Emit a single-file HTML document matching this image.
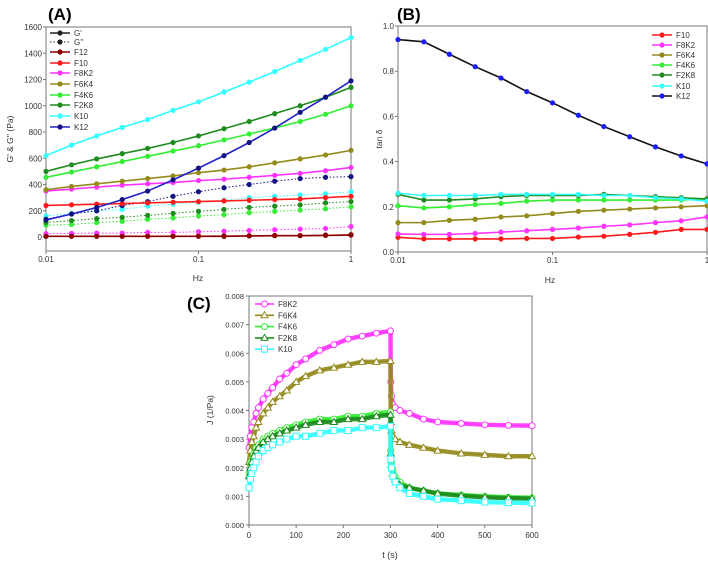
<!DOCTYPE html>
<html><head><meta charset="utf-8"><style>
body{margin:0;background:#fff;}
svg text{font-family:"Liberation Sans",sans-serif;}
</style></head><body>
<svg id="fig" width="708" height="564" xmlns="http://www.w3.org/2000/svg"></svg>
<script>
// ---------- Panel A data ----------
const freqA = [0.01,0.0147,0.0215,0.0316,0.0464,0.0681,0.1,0.147,0.215,0.316,0.464,0.681,1];
const gpK10 = [620,700,770,835,895,965,1030,1105,1180,1260,1345,1430,1520];
const gpF2K8 = [500,550,595,635,675,720,770,825,880,940,1000,1065,1140];
const gpF4K6 = [455,495,535,575,615,655,695,740,785,830,880,935,1000];
const gpF6K4 = [360,385,405,425,445,465,490,510,535,565,595,625,660];
const gpF8K2 = [350,365,380,395,405,415,430,440,455,470,485,505,530];
const gpF10 = [240,245,250,255,260,265,270,275,280,285,290,300,310];
const gpF12 = [5,5,5,5,5,5,5,5,8,10,10,12,15];
const gpK12 = [130,175,225,285,350,435,525,620,720,830,950,1065,1190];
const gdK12 = [135,175,200,240,270,310,345,375,400,425,445,455,460];
const gdK10 = [160,180,200,210,235,250,265,280,300,310,320,330,345];
const gdF2K8 = [110,125,140,150,165,180,195,210,225,235,245,260,270];
const gdF4K6 = [90,95,110,120,135,145,160,170,185,195,205,215,230];
const gdF8K2 = [25,28,30,30,35,35,40,45,50,55,60,65,80];
const gdF12 = [8,8,8,8,8,8,8,10,10,12,12,15,18];
const yTicksA = [0,200,400,600,800,1000,1200,1400,1600];
const xTicksLog = [0.01,0.1,1];
const xTickLabelsLog = ["0.01","0.1","1"];
// ---------- Panel B data ----------
const tdK12 = [0.94,0.93,0.875,0.82,0.77,0.71,0.66,0.605,0.555,0.51,0.465,0.425,0.39];
const tdK10 = [0.26,0.25,0.25,0.25,0.255,0.255,0.255,0.255,0.25,0.25,0.24,0.235,0.225];
const tdF2K8 = [0.255,0.23,0.23,0.235,0.245,0.25,0.25,0.25,0.255,0.25,0.245,0.24,0.235];
const tdF4K6 = [0.205,0.195,0.2,0.21,0.215,0.225,0.23,0.23,0.23,0.23,0.23,0.23,0.235];
const tdF6K4 = [0.13,0.13,0.14,0.145,0.155,0.16,0.17,0.18,0.185,0.19,0.195,0.2,0.205];
const tdF8K2 = [0.08,0.078,0.078,0.082,0.088,0.094,0.1,0.106,0.114,0.12,0.13,0.138,0.155];
const tdF10 = [0.065,0.058,0.058,0.058,0.058,0.06,0.06,0.066,0.07,0.078,0.087,0.1,0.1];
const yTicksB = [0,0.2,0.4,0.6,0.8,1.0];
// ---------- Panel C data ----------
const tC = [0,3,6,10,15,20,30,40,50,65,80,100,120,150,180,210,240,270,300,300.5,302,305,310,320,340,370,400,450,500,550,600];
const jF8K2 = [0.0027,0.0031,0.0034,0.0036,0.0039,0.0041,0.0044,0.0046,0.0048,0.0051,0.0053,0.0056,0.0058,0.0061,0.0063,0.0065,0.0066,0.0067,0.00678,0.0050,0.0045,0.0042,0.0041,0.0040,0.0039,0.0037,0.0036,0.00355,0.0035,0.00348,0.00347];
const jF6K4 = [0.0022,0.0026,0.0029,0.0031,0.0034,0.0036,0.0039,0.0041,0.0043,0.0045,0.0047,0.0050,0.0052,0.0054,0.0055,0.0056,0.0057,0.0057,0.00573,0.0036,0.0033,0.0031,0.0030,0.0029,0.0028,0.0027,0.0026,0.0025,0.00245,0.0024,0.0024];
const jF4K6 = [0.0018,0.0021,0.0023,0.0025,0.0027,0.0028,0.0030,0.0031,0.0032,0.0033,0.0034,0.0035,0.0036,0.0037,0.0037,0.0038,0.0038,0.0039,0.00395,0.0026,0.0022,0.0019,0.0017,0.0015,0.0013,0.0012,0.0011,0.00105,0.001,0.00097,0.00095];
const jF2K8 = [0.0017,0.0020,0.0022,0.0024,0.0026,0.0027,0.0029,0.0030,0.0031,0.0032,0.0033,0.0034,0.0035,0.0036,0.0036,0.0037,0.0037,0.0038,0.00385,0.0025,0.0021,0.0018,0.0016,0.0014,0.0013,0.0012,0.0011,0.00102,0.00097,0.00094,0.00092];
const jK10 = [0.0013,0.0016,0.0018,0.0020,0.0022,0.0024,0.0026,0.0027,0.0028,0.0029,0.0030,0.0031,0.0031,0.0032,0.0033,0.0033,0.0034,0.0034,0.00345,0.0023,0.0020,0.0017,0.0015,0.0013,0.0011,0.0010,0.0009,0.00085,0.0008,0.00078,0.00077];
const yTicksC = [0,0.001,0.002,0.003,0.004,0.005,0.006,0.007,0.008];
const xTicksC = [0,100,200,300,400,500,600];

const NS="http://www.w3.org/2000/svg";
const svg=document.getElementById('fig');
function mk(tag,attrs,parent){const e=document.createElementNS(NS,tag);for(const k in attrs)e.setAttribute(k,attrs[k]);(parent||svg).appendChild(e);return e;}
function txt(x,y,s,size,anchor,parent,extra){const t=mk('text',Object.assign({x:x,y:y,'font-size':size,'text-anchor':anchor||'middle',fill:'#333'},extra||{}),parent);t.textContent=s;return t;}

const C={F12:'#8b0000',F10:'#ff1a1a',F8K2:'#ff33ff',F6K4:'#948a1c',F4K6:'#33ee33',F2K8:'#1e8c1e',K10:'#33ffff',K12:'#2222cc',K12m:'#141480'};

// ---------- Panel A ----------
const A={x0:46,x1:351,yTop:27,yBot:251};
const axA={x:v=>A.x0+(Math.log10(v)+2)/2*(A.x1-A.x0), y:v=>237-v*(210/1600)};
const gA=mk('g',{});


mk('rect',{x:A.x0,y:A.yTop,width:A.x1-A.x0,height:A.yBot-A.yTop,fill:'none',stroke:'#777','stroke-width':1},gA);
yTicksA.forEach(v=>{const y=axA.y(v);mk('line',{x1:A.x0-3,x2:A.x0,y1:y,y2:y,stroke:'#777'},gA);const t=txt(A.x0-4,y+3,String(v),8,'end',gA);});
xTicksLog.forEach((v,i)=>{const x=axA.x(v);mk('line',{x1:x,x2:x,y1:A.yBot,y2:A.yBot+3,stroke:'#777'},gA);const t=txt(x,A.yBot+11,xTickLabelsLog[i],8,'middle',gA);});
function series(g,xs,ys,ax,color,mcolor,dotted,r,name){
  const sg=mk('g',{},g);
  
  
  const pts=xs.map((x,i)=>ax.x(x)+','+ax.y(ys[i])).join(' ');
  const attrs={points:pts,fill:'none',stroke:color,'stroke-width':dotted?1:1.6};
  if(dotted)attrs['stroke-dasharray']='1.5,2';
  mk('polyline',attrs,sg);
  xs.forEach((x,i)=>mk('circle',{cx:ax.x(x),cy:ax.y(ys[i]),r:r,fill:mcolor||color},sg));
}
const dA=[[gdF12,C.F12,'gpp-f12'],[gdF8K2,C.F8K2,'gpp-f8k2'],[gdF4K6,C.F4K6,'gpp-f4k6'],[gdF2K8,C.F2K8,'gpp-f2k8'],[gdK10,C.K10,'gpp-k10'],[gdK12,C.K12m,'gpp-k12']];
dA.forEach(s=>series(gA,freqA,s[0],axA,s[1],null,true,2.6,s[2]));
const sA=[[gpF12,C.F12,C.F12,'gp-f12'],[gpF10,C.F10,C.F10,'gp-f10'],[gpF8K2,C.F8K2,C.F8K2,'gp-f8k2'],[gpF6K4,C.F6K4,C.F6K4,'gp-f6k4'],[gpF4K6,C.F4K6,C.F4K6,'gp-f4k6'],[gpF2K8,C.F2K8,C.F2K8,'gp-f2k8'],[gpK10,C.K10,C.K10,'gp-k10'],[gpK12,C.K12,C.K12m,'gp-k12']];
sA.forEach(s=>series(gA,freqA,s[0],axA,s[1],s[2],false,2.6,s[3]));
// legend A
const legA=[["G'",'#222',false],["G''",'#222',true],['F12',C.F12],['F10',C.F10],['F8K2',C.F8K2],['F6K4',C.F6K4],['F4K6',C.F4K6],['F2K8',C.F2K8],['K10',C.K10],['K12',C.K12]];
const legAy=[33,42,52,63,73,84,95,105,116,127];
const lgA=mk('g',{},gA);


legA.forEach((l,i)=>{const y=legAy[i];const a={x1:50,x2:70,y1:y,y2:y,stroke:l[1],'stroke-width':l[2]?1:1.6};if(l[2])a['stroke-dasharray']='1.5,2';mk('line',a,lgA);mk('circle',{cx:60,cy:y,r:2.6,fill:l[0]=='K12'?C.K12m:l[1]},lgA);const t=txt(74,y+3,l[0],8,'start',lgA);});
let t;
t=txt(0,0,"G' & G'' (Pa)",8.5,'middle',gA,{transform:'translate(13,139) rotate(-90)'});
t=txt(198,281,'Hz',8.5,'middle',gA);
t=txt(48,20,'(A)',17,'start',gA,{'font-weight':'bold','font-family':'Liberation Serif, serif',fill:'#000'});

// ---------- Panel B ----------
const B={x0:398,x1:707,yTop:26,yBot:252};
const axB={x:v=>B.x0+(Math.log10(v)+2)/2*(B.x1-B.x0), y:v=>B.yBot-v*(B.yBot-B.yTop)};
const gB=mk('g',{});


mk('rect',{x:B.x0,y:B.yTop,width:B.x1-B.x0,height:B.yBot-B.yTop,fill:'none',stroke:'#777'},gB);
yTicksB.forEach(v=>{const y=axB.y(v);mk('line',{x1:B.x0-3,x2:B.x0,y1:y,y2:y,stroke:'#777'},gB);const t=txt(B.x0-4,y+3,v.toFixed(1),8,'end',gB);});
xTicksLog.forEach((v,i)=>{const x=axB.x(v);mk('line',{x1:x,x2:x,y1:B.yBot,y2:B.yBot+3,stroke:'#777'},gB);const t=txt(x,B.yBot+11,xTickLabelsLog[i],8,'middle',gB);});
const sB=[[tdF10,C.F10,C.F10,'td-f10'],[tdF8K2,C.F8K2,C.F8K2,'td-f8k2'],[tdF6K4,C.F6K4,C.F6K4,'td-f6k4'],[tdF4K6,C.F4K6,C.F4K6,'td-f4k6'],[tdF2K8,C.F2K8,C.F2K8,'td-f2k8'],[tdK10,C.K10,C.K10,'td-k10'],[tdK12,'#111','#1a1aff','td-k12']];
sB.forEach(s=>series(gB,freqA,s[0],axB,s[1],s[2],false,2.6,s[3]));
const legBy=[35,45,55,65,75,86,96];
const lgB=mk('g',{},gB);


[['F10',C.F10,C.F10],['F8K2',C.F8K2,C.F8K2],['F6K4',C.F6K4,C.F6K4],['F4K6',C.F4K6,C.F4K6],['F2K8',C.F2K8,C.F2K8],['K10',C.K10,C.K10],['K12','#111','#1a1aff']].forEach((l,i)=>{const y=legBy[i];mk('line',{x1:652,x2:672,y1:y,y2:y,stroke:l[1],'stroke-width':1.6},lgB);mk('circle',{cx:662,cy:y,r:2.6,fill:l[2]},lgB);const t=txt(676,y+3,l[0],8,'start',lgB);});
t=txt(0,0,'tan δ',8.5,'middle',gB,{transform:'translate(382,139) rotate(-90)'});
t=txt(550,283,'Hz',8.5,'middle',gB);
t=txt(397,20,'(B)',17,'start',gB,{'font-weight':'bold','font-family':'Liberation Serif, serif',fill:'#000'});

// ---------- Panel C ----------
const Cp={x0:249,x1:532,yTop:296,yBot:525};
const axC={x:v=>Cp.x0+v/600*(Cp.x1-Cp.x0), y:v=>Cp.yBot-v/0.008*(Cp.yBot-Cp.yTop)};
const gC=mk('g',{});


mk('rect',{x:Cp.x0,y:Cp.yTop,width:Cp.x1-Cp.x0,height:Cp.yBot-Cp.yTop,fill:'none',stroke:'#777'},gC);
yTicksC.forEach(v=>{const y=axC.y(v);mk('line',{x1:Cp.x0-3,x2:Cp.x0,y1:y,y2:y,stroke:'#777'},gC);const t=txt(Cp.x0-5,y+3,v.toFixed(3),7.5,'end',gC);});
xTicksC.forEach(v=>{const x=axC.x(v);mk('line',{x1:x,x2:x,y1:Cp.yBot,y2:Cp.yBot+3,stroke:'#777'},gC);const t=txt(x,Cp.yBot+13,String(v),8,'middle',gC);});
function seriesC(ys,color,shape,name){
  const sg=mk('g',{},gC);
  
  
  const pts=tC.map((x,i)=>axC.x(x)+','+axC.y(ys[i])).join(' ');
  mk('polyline',{points:pts,fill:'none',stroke:color,'stroke-width':4.5,'stroke-linejoin':'round',opacity:0.9},sg);
  mk('polyline',{points:pts,fill:'none',stroke:color,'stroke-width':1},sg);
  tC.forEach((x,i)=>marker(sg,axC.x(x),axC.y(ys[i]),color,shape));
}
function marker(g,x,y,color,shape){
  if(shape=='c')mk('circle',{cx:x,cy:y,r:3,fill:'#fff',stroke:color,'stroke-width':1},g);
  else if(shape=='t')mk('polygon',{points:`${x},${y-3.5} ${x+3.5},${y+2.5} ${x-3.5},${y+2.5}`,fill:'#fff',stroke:color,'stroke-width':1},g);
  else mk('rect',{x:x-3,y:y-3,width:6,height:6,fill:'#fff',stroke:color,'stroke-width':1},g);
}
seriesC(jF8K2,C.F8K2,'c','creep-f8k2');
seriesC(jF6K4,C.F6K4,'t','creep-f6k4');
seriesC(jF4K6,C.F4K6,'c','creep-f4k6');
seriesC(jF2K8,C.F2K8,'t','creep-f2k8');
seriesC(jK10,C.K10,'s','creep-k10');
const lgC=mk('g',{},gC);


[['F8K2',C.F8K2,'c'],['F6K4',C.F6K4,'t'],['F4K6',C.F4K6,'c'],['F2K8',C.F2K8,'t'],['K10',C.K10,'s']].forEach((l,i)=>{const y=304+i*11.3;mk('line',{x1:255,x2:274,y1:y,y2:y,stroke:l[1],'stroke-width':1.6},lgC);marker(lgC,264.5,y,l[1],l[2]);const t=txt(278,y+3,l[0],8,'start',lgC);});
t=txt(0,0,'J (1/Pa)',8.5,'middle',gC,{transform:'translate(213,410) rotate(-90)'});
t=txt(390,558,'t (s)',9,'middle',gC);
t=txt(187,309,'(C)',17,'start',gC,{'font-weight':'bold','font-family':'Liberation Serif, serif',fill:'#000'});
</script>
</body></html>
